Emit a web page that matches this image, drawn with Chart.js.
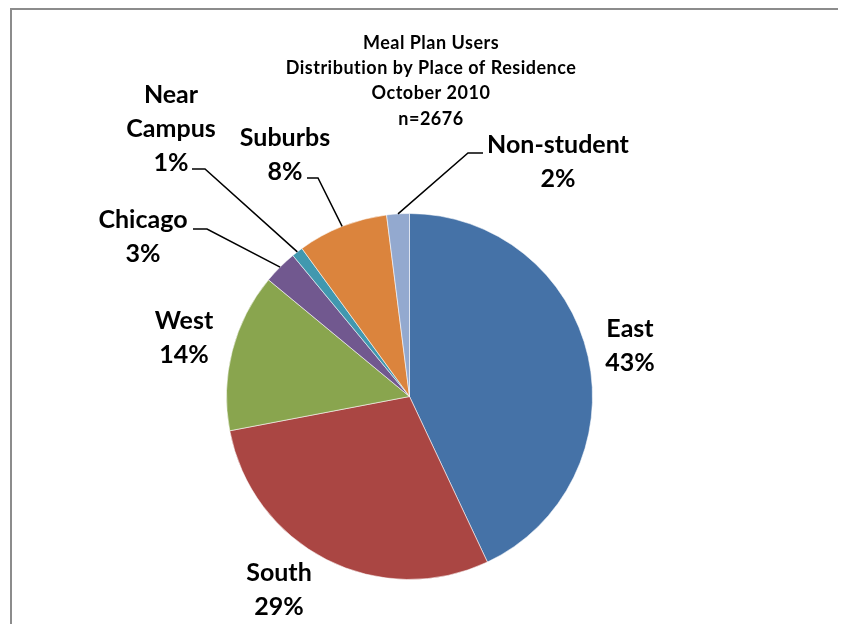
<!DOCTYPE html>
<html>
<head>
<meta charset="utf-8">
<script src="https://cdn.jsdelivr.net/npm/chart.js@4.4.1/dist/chart.umd.min.js"></script>
<style>
  html, body { margin: 0; padding: 0; background: #fff; }
</style>
</head>
<body>
<canvas id="residenceChart" width="841" height="624"></canvas>
<script>
const places = ['East', 'South', 'West', 'Chicago', 'Near Campus', 'Suburbs', 'Non-student'];
const percents = [43, 29, 14, 3, 1, 8, 2];
const sliceColors = ['#4572A7', '#AA4643', '#89A54E', '#71588F', '#4198AF', '#DB843D', '#93A9CF'];
const titleLines = ['Meal Plan Users', 'Distribution by Place of Residence', 'October 2010', 'n=2676'];

// label block centres, plus the bend of the leader line for the thin slices
const labelSpots = [
    { x: 630, y: 346 },
    { x: 279, y: 590 },
    { x: 184, y: 338 },
    { x: 143, y: 237, lineFrom: [193, 229], bend: [207, 229] },
    { x: 171, y: 129, split: true, lineFrom: [192, 169], bend: [205, 169] },
    { x: 285, y: 155, lineFrom: [307, 178], bend: [318, 178] },
    { x: 558, y: 162, lineFrom: [483, 153], bend: [468, 153] }
];

const FONT = 'Lato, "Liberation Sans", sans-serif';

const pieDecor = {
    id: 'pieDecor',
    beforeDraw(chart) {
        const ctx = chart.ctx;
        ctx.save();
        ctx.strokeStyle = '#8c8c8c';
        ctx.lineWidth = 2;
        ctx.beginPath();
        ctx.moveTo(11, 624);
        ctx.lineTo(11, 9);
        ctx.lineTo(838, 9);
        ctx.stroke();
        ctx.restore();
    },
    afterDraw(chart) {
        const ctx = chart.ctx;
        const arcs = chart.getDatasetMeta(0).data;
        ctx.save();

        // title (letter spacing also keeps Lato from joining "ti")
        ctx.fillStyle = '#000';
        ctx.textAlign = 'center';
        ctx.textBaseline = 'middle';
        ctx.font = 'bold 18px ' + FONT;
        ctx.letterSpacing = '0.5px';
        titleLines.forEach((line, i) => {
            ctx.fillText(line, 431, 43 + i * 25.3);
        });
        ctx.letterSpacing = '0px';

        // leader lines
        ctx.strokeStyle = '#000';
        ctx.lineWidth = 1.5;
        arcs.forEach((arc, i) => {
            const spot = labelSpots[i];
            if (!spot.lineFrom) return;
            const mid = (arc.startAngle + arc.endAngle) / 2;
            const ex = arc.x + Math.cos(mid) * arc.outerRadius;
            const ey = arc.y + Math.sin(mid) * arc.outerRadius;
            ctx.beginPath();
            ctx.moveTo(spot.lineFrom[0], spot.lineFrom[1]);
            ctx.lineTo(spot.bend[0], spot.bend[1]);
            ctx.lineTo(ex, ey);
            ctx.stroke();
        });

        // data labels
        ctx.font = 'bold 25px ' + FONT;
        places.forEach((name, i) => {
            const spot = labelSpots[i];
            const lines = spot.split ? name.split(' ') : [name];
            lines.push(percents[i] + '%');
            const step = 34;
            const top = spot.y - (lines.length - 1) * step / 2;
            lines.forEach((line, j) => {
                ctx.fillText(line, spot.x, top + j * step);
            });
        });
        ctx.restore();
    }
};

new Chart(document.getElementById('residenceChart'), {
    type: 'pie',
    data: {
        labels: places,
        datasets: [{
            data: percents,
            backgroundColor: sliceColors,
            borderColor: 'rgba(255,255,255,0.55)',
            borderWidth: 1
        }]
    },
    options: {
        responsive: false,
        animation: false,
        layout: {
            padding: { top: 213, bottom: 44, left: 226, right: 248 }
        },
        plugins: {
            legend: { display: false },
            tooltip: { enabled: false }
        }
    },
    plugins: [pieDecor]
});
</script>
</body>
</html>
